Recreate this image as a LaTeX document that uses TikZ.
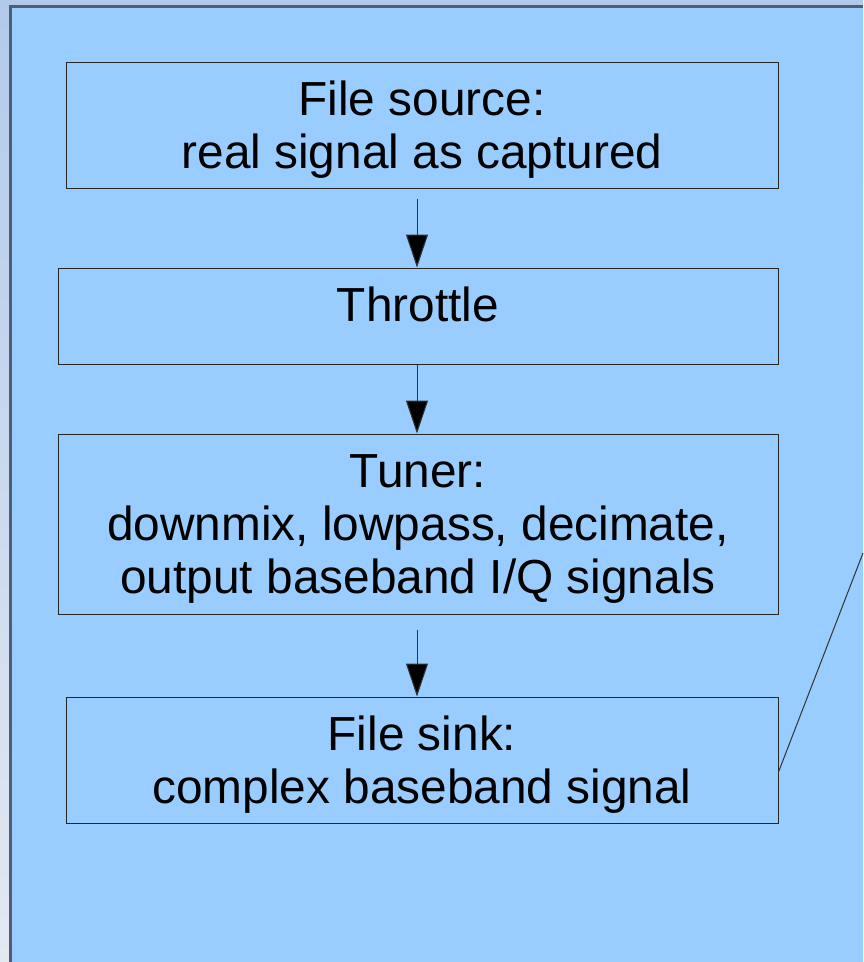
\documentclass[tikz,border=0pt]{standalone}
\usepackage{fontspec}
\setmainfont{Liberation Sans}
\usepackage{tikz}
\usetikzlibrary{arrows.meta,calc}

\definecolor{panelblue}{HTML}{99CCFF}
\definecolor{bgtop}{HTML}{B2CAEA}
\definecolor{bgbottom}{HTML}{E4E8F1}
\definecolor{edgegray}{HTML}{4D5E76}

\tikzset{
  block/.style={draw=black!85, line width=1pt, align=center, inner sep=0pt,
    text depth=0pt, font=\fontsize{47.8}{53}\selectfont},
  flow/.style={draw=black!80, line width=1pt,
    -{Triangle[width=22pt,length=33pt,fill=black]}}
}

\begin{document}
\begin{tikzpicture}[x=1pt,y=-1pt]
    % background and panel
    \useasboundingbox (0,0) rectangle (863,962);
    \shade[top color=bgtop, bottom color=bgbottom] (0,0) rectangle (863,962);
    \fill[panelblue] (10,6) rectangle (863,962);
    \draw[edgegray, line width=3pt] (10,962) -- (10,6) -- (863,6);

    % draw blocks
    \node[block, minimum width=712pt, minimum height=126pt] (src) at (422,125)
        {File source:\\real signal as captured};
    \node[block, minimum width=720pt, minimum height=96pt, text depth=24pt] (thr) at (418,316)
        {Throttle};
    \node[block, minimum width=720pt, minimum height=180pt] (tun) at (418,524)
        {Tuner:\\downmix, lowpass, decimate,\\output baseband I/Q signals};
    \node[block, minimum width=712pt, minimum height=126pt] (snk) at (422,760)
        {File sink:\\complex baseband signal};

    % draw arrows
    \draw[flow] ([xshift=-5pt,yshift=-10pt]src.south) -- ([xshift=-1pt]thr.north);
    \draw[flow] ([xshift=-1pt]thr.south) -- ([xshift=-1pt]tun.north);
    \draw[flow] ([xshift=-1pt,yshift=-15pt]tun.south) -- ([xshift=-5pt]snk.north);

    % draw callout line
    \coordinate (out) at (863,553);
    \draw[black!80, line width=1pt] ([yshift=-12pt]snk.east) -- (out);
\end{tikzpicture}
\end{document}
